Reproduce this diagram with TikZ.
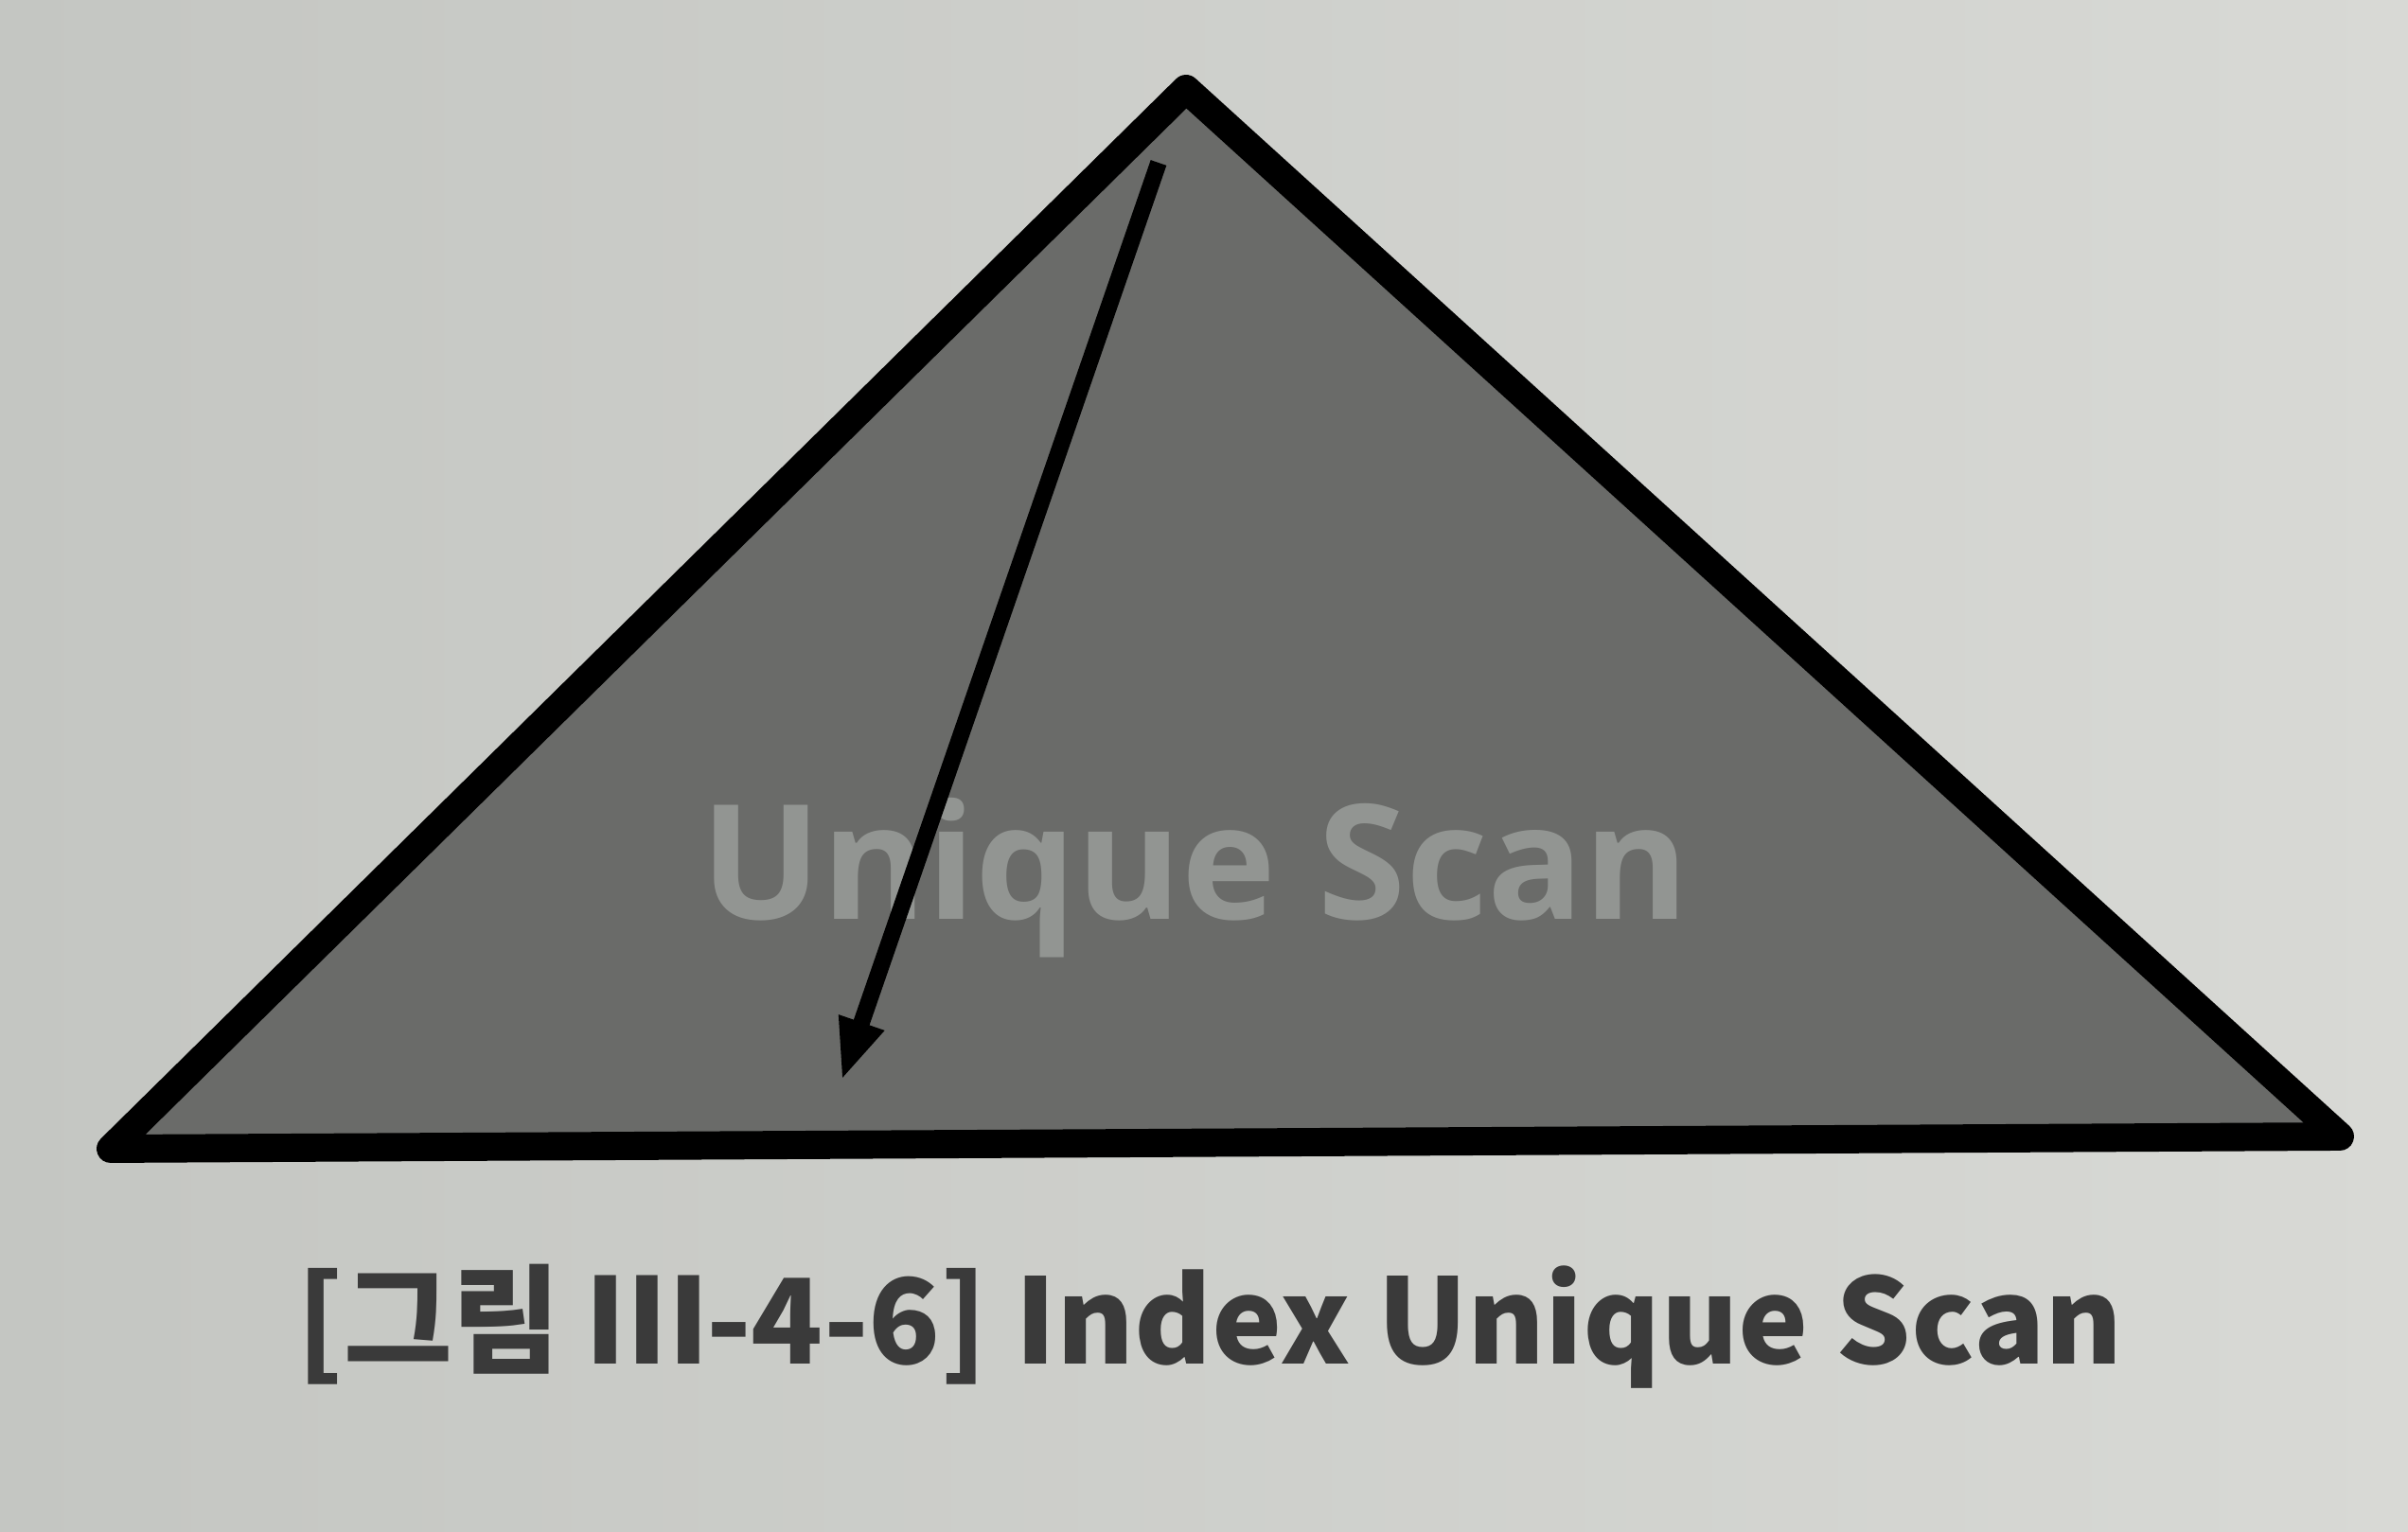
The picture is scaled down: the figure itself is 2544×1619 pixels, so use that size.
\documentclass[tikz,border=0pt]{standalone}
\usepackage{fontspec}
\setmainfont{Open Sans}
\newfontfamily\krfont{Noto Sans CJK KR}
\usetikzlibrary{arrows.meta}
\definecolor{mypaper}{RGB}{196,198,194}
\definecolor{mypaperlight}{RGB}{216,217,213}
\definecolor{myfill}{RGB}{106,107,105}
\definecolor{mylabel}{RGB}{146,149,146}
\definecolor{mycaption}{RGB}{58,58,58}
\tikzset{
  tree/.style={draw=black, line width=8.5pt, line join=round, fill=myfill},
  scan/.style={draw=black, line width=5pt},
  inner/.style={text=mylabel, font=\fontsize{48}{54}\selectfont\bfseries, inner sep=0, anchor=base},
  caption/.style={text=mycaption, font=\krfont\fontsize{35.5}{40}\selectfont\bfseries, inner sep=0}
}
\begin{document}
\begin{tikzpicture}[x=0.01cm, y=-0.01cm, >={Triangle[length=6.5mm,width=4.6mm]}]

\useasboundingbox[left color=mypaper, right color=mypaperlight] (0,0) rectangle (2544,1619);

% index tree
\coordinate (top) at (1253,94);
\coordinate (left) at (117,1214);
\coordinate (right) at (2472,1201);
\draw[tree] (top) -- (right) -- (left) -- cycle;

\node [inner] (label) at (1263,972) {Unique Scan};

% unique scan path
\coordinate (start) at (1224,172);
\coordinate (leaf) at (889,1142);
\draw[scan, ->] (start) -- (leaf);

\node [caption] (title) at (1278,1402) {[그림 Ⅲ-4-6] Index Unique Scan};

\end{tikzpicture}
\end{document}
